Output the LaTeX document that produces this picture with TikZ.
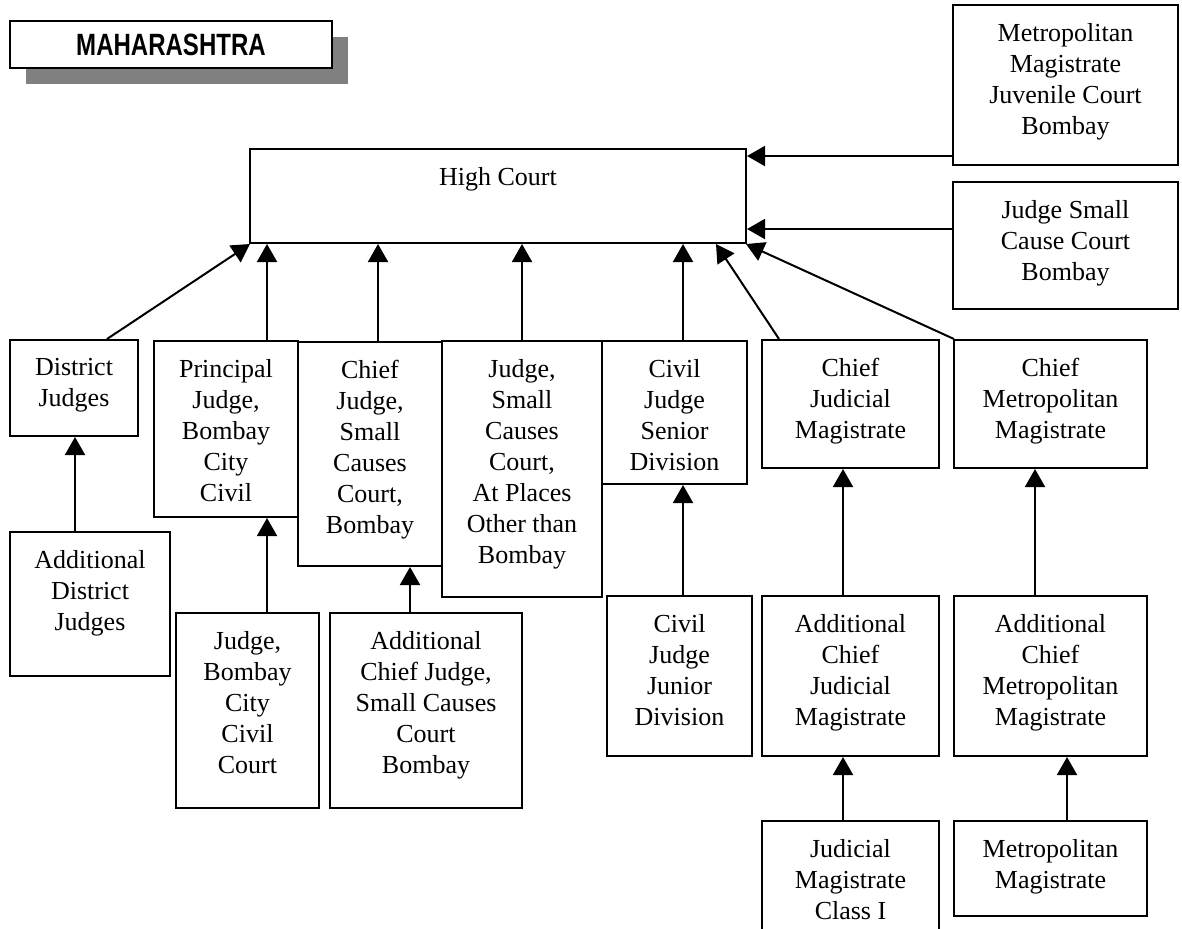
\documentclass[tikz,border=0pt]{standalone}
\usepackage{fontspec}
\setmainfont{Liberation Serif}
\newfontfamily\statefont[FakeStretch=0.78]{Liberation Sans}
\usetikzlibrary{arrows.meta,fit,shadows}

\begin{document}
\begin{tikzpicture}[x=0.5pt, y=-0.5pt,
    court/.style={draw, line width=1pt, inner sep=0pt},
    inside/.style={anchor=north, yshift=-9.5pt, inner sep=0pt, align=center,
      font=\fontsize{13}{15.5}\selectfont},
    arr/.style={line width=1pt, -{Triangle[length=9pt,width=10pt]}}]
  \useasboundingbox (0,0) rectangle (1182,928);

  % state title with its shadow
  \node[court, fill=white, fit={(10,21) (332,68)},
    drop shadow={shadow xshift=8pt, shadow yshift=-8pt, fill=gray, opacity=1},
    label={[font=\statefont\bfseries\fontsize{15.4}{18}\selectfont]center:MAHARASHTRA}] (state) {};

  % top of the hierarchy
  \node[court, fit={(250,149) (746,243)}, label={[inside]north:{High Court}}] (hc) {};
  \node[court, fit={(953,5) (1178,165)},
    label={[inside]north:{Metropolitan\\Magistrate\\Juvenile Court\\Bombay}}] (juvenile) {};
  \node[court, fit={(953,182) (1178,309)},
    label={[inside]north:{Judge Small\\Cause Court\\Bombay}}] (smallcause) {};

  % second row
  \node[court, fit={(10,340) (138,436)}, label={[inside]north:{District\\Judges}}] (district) {};
  \node[court, fit={(154,341) (298,517)},
    label={[inside]north:{Principal\\Judge,\\Bombay\\City\\Civil}}] (principal) {};
  \node[court, fit={(298,342) (442,566)},
    label={[inside]north:{Chief\\Judge,\\Small\\Causes\\Court,\\Bombay}}] (chiefjudge) {};
  \node[court, fit={(442,341) (602,597)},
    label={[inside]north:{Judge,\\Small\\Causes\\Court,\\At Places\\Other than\\Bombay}}] (places) {};
  \node[court, fit={(602,341) (747,484)},
    label={[inside]north:{Civil\\Judge\\Senior\\Division}}] (senior) {};
  \node[court, fit={(762,340) (939,468)},
    label={[inside]north:{Chief\\Judicial\\Magistrate}}] (chiefjm) {};
  \node[court, fit={(954,340) (1147,468)},
    label={[inside]north:{Chief\\Metropolitan\\Magistrate}}] (chiefmm) {};

  % third row
  \node[court, fit={(10,532) (170,676)},
    label={[inside]north:{Additional\\District\\Judges}}] (adddistrict) {};
  \node[court, fit={(176,613) (319,808)},
    label={[inside]north:{Judge,\\Bombay\\City\\Civil\\Court}}] (cityjudge) {};
  \node[court, fit={(330,613) (522,808)},
    label={[inside]north:{Additional\\Chief Judge,\\Small Causes\\Court\\Bombay}}] (addchiefjudge) {};
  \node[court, fit={(607,596) (752,756)},
    label={[inside]north:{Civil\\Judge\\Junior\\Division}}] (junior) {};
  \node[court, fit={(762,596) (939,756)},
    label={[inside]north:{Additional\\Chief\\Judicial\\Magistrate}}] (addcjm) {};
  \node[court, fit={(954,596) (1147,756)},
    label={[inside]north:{Additional\\Chief\\Metropolitan\\Magistrate}}] (addcmm) {};

  % bottom row
  \node[court, fit={(762,821) (939,940)},
    label={[inside]north:{Judicial\\Magistrate\\Class I}}] (jmfc) {};
  \node[court, fit={(954,821) (1147,916)},
    label={[inside]north:{Metropolitan\\Magistrate}}] (metromag) {};

  % appeals go up to the parent court
  \foreach \c/\cx/\p/\px in {district/107/hc/250, principal/267/hc/267,
      chiefjudge/378/hc/378, places/522/hc/522, senior/683/hc/683,
      chiefjm/779/hc/716, chiefmm/954/hc/746,
      adddistrict/75/district/75, cityjudge/267/principal/267,
      addchiefjudge/410/chiefjudge/410, junior/683/senior/683,
      addcjm/843/chiefjm/843, addcmm/1035/chiefmm/1035,
      jmfc/843/addcjm/843, metromag/1067/addcmm/1067}
    \draw[arr] (\c.north -| \cx,0) -- (\p.south -| \px,0);
  \draw[arr] (juvenile.west |- 0,156) -- (hc.east |- 0,156);
  \draw[arr] (smallcause.west |- 0,229) -- (hc.east |- 0,229);
\end{tikzpicture}
\end{document}
